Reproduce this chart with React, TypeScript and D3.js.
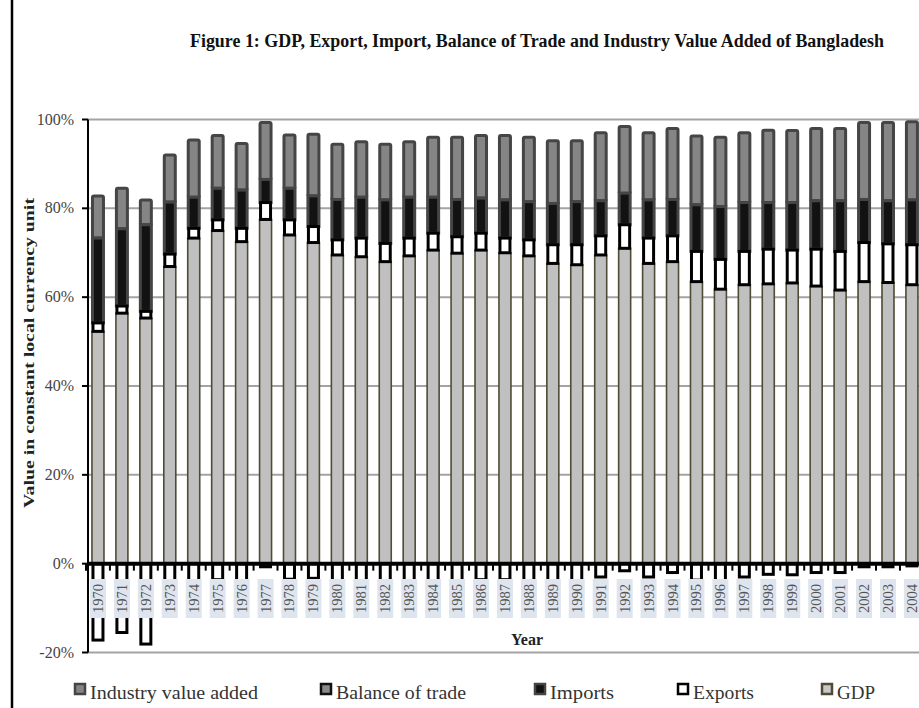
import React from 'react'
import * as d3 from 'd3'

// shares in % (100% stacked)
const years = [
  '1970', '1971', '1972', '1973', '1974', '1975', '1976', '1977', '1978', '1979',
  '1980', '1981', '1982', '1983', '1984', '1985', '1986', '1987', '1988', '1989',
  '1990', '1991', '1992', '1993', '1994', '1995', '1996', '1997', '1998', '1999',
  '2000', '2001', '2002', '2003', '2004',
]
const gdp = [52.3, 56.4, 55.3, 66.9, 73.3, 75.0, 72.5, 77.5, 74.0, 72.3, 69.5, 69.1, 68.0, 69.3, 70.6, 69.9, 70.6, 70.0, 69.3, 67.6, 67.3, 69.5, 71.0, 67.6, 68.0, 63.5, 61.8, 62.8, 63.0, 63.2, 62.5, 61.6, 63.5, 63.3, 62.8]
const exportsV = [1.9, 1.6, 1.5, 2.8, 2.2, 2.4, 3.0, 3.8, 3.4, 3.6, 3.4, 4.2, 4.1, 4.0, 3.8, 3.7, 3.8, 3.3, 3.6, 4.2, 4.5, 4.3, 5.3, 5.7, 5.8, 6.8, 6.7, 7.5, 7.8, 7.4, 8.3, 8.7, 8.8, 8.7, 9.0]
const importsV = [19.1, 17.4, 19.5, 11.7, 7.0, 7.1, 8.6, 5.2, 7.1, 6.9, 9.1, 9.2, 9.8, 9.2, 8.1, 8.4, 7.9, 8.6, 8.6, 9.3, 9.7, 7.9, 7.1, 8.6, 8.2, 10.5, 11.9, 11.0, 10.5, 10.7, 10.9, 11.4, 9.7, 9.7, 10.1]
const industry = [9.5, 9.1, 5.6, 10.6, 12.9, 11.9, 10.5, 12.8, 12.0, 13.9, 12.4, 12.5, 12.5, 12.5, 13.5, 14.0, 14.1, 14.5, 14.5, 14.1, 13.7, 15.3, 15.0, 15.1, 16.0, 15.5, 15.6, 15.7, 16.3, 16.2, 16.3, 16.3, 17.3, 17.6, 17.6]
const balance = [-17.2, -15.5, -18.1, -8.0, -4.6, -3.6, -5.4, -0.7, -3.5, -3.3, -5.6, -5.0, -5.6, -5.0, -4.0, -4.0, -3.6, -3.6, -4.0, -4.8, -4.8, -3.0, -1.6, -3.0, -2.0, -3.7, -4.0, -3.0, -2.4, -2.5, -2.0, -2.0, -0.7, -0.7, -0.5]
const yTicks = [-20, 0, 20, 40, 60, 80, 100]

const keys = ['gdp', 'industry', 'imports', 'exports', 'balance']
const style = {
  gdp: { fill: '#c0c0c0', stroke: '#4f4b36', sw: 1.6, w: 12 },
  industry: { fill: '#858585', stroke: '#454545', sw: 3, w: 11 },
  imports: { fill: '#121212', stroke: '#454545', sw: 3, w: 11 },
  exports: { fill: '#ffffff', stroke: '#000000', sw: 3, w: 10 },
  balance: { fill: '#ffffff', stroke: '#000000', sw: 3, w: 10 },
}
const legend = [
  { key: 'industry', label: 'Industry value added', x: 74, len: 168, sw: { fill: '#858585', stroke: '#454545' } },
  { key: 'balance', label: 'Balance of trade', x: 320, len: 130, sw: { fill: '#8a8a8a', stroke: '#111' } },
  { key: 'imports', label: 'Imports', x: 534, len: 64, sw: { fill: '#121212', stroke: '#454545' } },
  { key: 'exports', label: 'Exports', x: 677, len: 61, sw: { fill: '#fff', stroke: '#000' } },
  { key: 'gdp', label: 'GDP', x: 821, len: 38, sw: { fill: '#c8c8c8', stroke: '#4f4b36' } },
]

const W = 919
const H = 708
const serif = "'Liberation Serif', 'Times New Roman', serif"

export default function App() {
  const rows = years.map((y, i) => ({
    year: y,
    gdp: gdp[i],
    exports: exportsV[i],
    imports: importsV[i],
    industry: industry[i],
    balance: balance[i],
  }))

  // positives go up in order gdp, exports, imports, industry; balance goes down
  const stack = d3.stack<any>()
    .keys(['gdp', 'exports', 'imports', 'industry', 'balance'])
    .offset(d3.stackOffsetDiverging)
  const series = stack(rows)
  const byKey: any = {}
  series.forEach(s => { byKey[s.key] = s })

  const x = d3.scaleBand().domain(years).range([86, 923.9]).padding(0)
  const y = d3.scaleLinear().domain([-20, 100]).range([652.5, 119.5])
  const bw = x.bandwidth()
  const axisX = 88

  return (
    <svg width={W} height={H} style={{ position: 'absolute', left: 0, top: 0, background: '#fff' }}>
      <line x1={12} x2={12} y1={0} y2={H} stroke="#000" strokeWidth={2.5} />

      <text x={190} y={47} fontFamily={serif} fontWeight="bold" fontSize={18.5}
        textLength={694} lengthAdjust="spacingAndGlyphs" fill="#111">
        Figure 1: GDP, Export, Import, Balance of Trade and Industry Value Added of Bangladesh
      </text>

      {yTicks.map(t => (
        <g key={t}>
          {t !== 0 && (
            <line x1={axisX} x2={W} y1={y(t)} y2={y(t)} stroke="#a3a3a3" strokeWidth={2} />
          )}
          <line x1={axisX - 6} x2={axisX} y1={y(t)} y2={y(t)} stroke="#000" strokeWidth={2} />
          <text x={74} y={y(t) + 5} textAnchor="end" fontFamily={serif} fontSize={16} fill="#444">
            {t}%
          </text>
        </g>
      ))}

      {keys.map(k => {
        const s: any = style[k as keyof typeof style]
        return (
          <g key={k}>
            {byKey[k].map((d: any, i: number) => {
              const top = y(Math.max(d[0], d[1]))
              const bot = y(Math.min(d[0], d[1]))
              const cx = (x(years[i]) as number) + bw / 2
              return (
                <rect key={i} x={cx - s.w / 2} y={top} width={s.w} height={Math.max(0.5, bot - top)}
                  fill={s.fill} stroke={s.stroke} strokeWidth={s.sw} rx={k === 'industry' ? 1.5 : 0} />
              )
            })}
          </g>
        )
      })}

      <line x1={axisX} x2={axisX} y1={y(100)} y2={y(-20)} stroke="#000" strokeWidth={2} />
      <line x1={axisX} x2={W} y1={y(0)} y2={y(0)} stroke="#000" strokeWidth={4} />
      {years.map(yr => (
        <line key={yr} x1={x(yr) as number} x2={x(yr) as number} y1={y(0)} y2={y(0) + 7}
          stroke="#000" strokeWidth={2} />
      ))}

      {years.map(yr => {
        const cx = (x(yr) as number) + bw / 2
        return (
          <g key={yr}>
            <rect x={cx - 8} y={579} width={16} height={39} fill="#dfe5ef" />
            <text transform={`translate(${cx + 5},598.5) rotate(-90)`} textAnchor="middle"
              fontFamily={serif} fontSize={14.5} fill="#555">
              {yr}
            </text>
          </g>
        )
      })}

      <text x={527} y={645} textAnchor="middle" fontFamily={serif} fontWeight="bold" fontSize={16} fill="#222">
        Year
      </text>
      <text transform="translate(34,353) rotate(-90)" textAnchor="middle" fontFamily={serif}
        fontWeight="bold" fontSize={15} textLength={310} lengthAdjust="spacingAndGlyphs" fill="#222">
        Value in constant local currency unit
      </text>

      {legend.map(l => (
        <g key={l.key}>
          <rect x={l.x + 1} y={684} width={10} height={10} fill={l.sw.fill} stroke={l.sw.stroke} strokeWidth={2.5} />
          <text x={l.x + 16} y={699} fontFamily={serif} fontSize={19.5} fill="#333"
            textLength={l.len} lengthAdjust="spacingAndGlyphs">
            {l.label}
          </text>
        </g>
      ))}
    </svg>
  )
}
